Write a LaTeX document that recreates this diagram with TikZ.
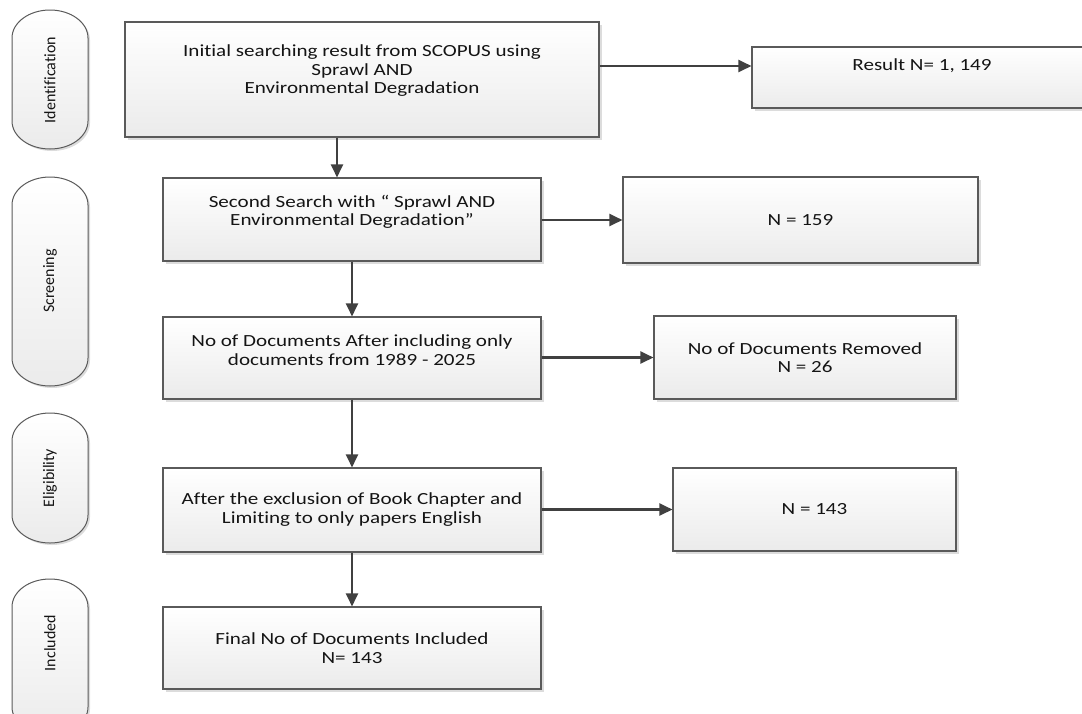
\documentclass[tikz,border=0pt]{standalone}
\usepackage{fontspec}
\setmainfont{Carlito}[RawFeature=-liga]
\newfontfamily\boxfont{Carlito}[FakeStretch=1.24,RawFeature=-liga]
\usetikzlibrary{arrows.meta,shadows}
\definecolor{edgec}{HTML}{5A5A5A}
\definecolor{arrowc}{HTML}{404040}
\definecolor{shadec}{HTML}{EBEBEB}
\definecolor{shadowc}{HTML}{DCDCDC}
\definecolor{textc}{HTML}{141414}
\tikzset{
  box/.style={draw=edgec, line width=1.1pt, top color=white, bottom color=shadec,
    rectangle, inner sep=0pt,
    drop shadow={shadow xshift=3pt, shadow yshift=-3pt, fill=shadowc, opacity=1}},
  txt/.style={font=\boxfont\fontsize{17}{18.5}\selectfont, align=center, text=textc, inner sep=0pt},
  stxt/.style={font=\fontsize{16}{18}\selectfont, rotate=90, text=textc, inner sep=0pt},
  stagebox/.style={draw=edgec, line width=1pt, top color=white, bottom color=shadec,
    drop shadow={shadow xshift=2pt, shadow yshift=-2pt, fill=shadowc, opacity=1}},
  arr/.style={draw=arrowc, line width=2.2pt, -{Triangle[length=13pt,width=12pt]}},
}
\newcommand{\stageshape}[2]{%
  \path[stagebox] (12,#1+28) arc[start angle=180,end angle=360,x radius=38,y radius=28]
    -- (88,#2-28) arc[start angle=0,end angle=180,x radius=38,y radius=28] -- cycle;}
\begin{document}
\begin{tikzpicture}[x=1pt,y=-1pt]
\useasboundingbox (0,0) rectangle (1082,713);
\clip (0,0) rectangle (1082,713);
% stage labels
\stageshape{10}{149}
\node[stxt] (sid) at (50,80) {Identification};
\stageshape{177}{386}
\node[stxt] (sscr) at (50,281) {Screening};
\stageshape{413}{543}
\node[stxt] (selig) at (50,478) {Eligibility};
\stageshape{579}{735}
\node[stxt] (sinc) at (50,643) {Included};
% main boxes
\node[box, minimum width=474pt, minimum height=115pt] (b1) at (362,79.5) {};
\node[txt] (t1) at (362,71) {Initial searching result from SCOPUS using\\Sprawl AND\\Environmental Degradation};
\node[box, minimum width=378pt, minimum height=83pt] (b2) at (352,219.5) {};
\node[txt] (t2) at (352,212) {Second Search with “ Sprawl AND\\Environmental Degradation”};
\node[box, minimum width=378pt, minimum height=82pt] (b3) at (352,358) {};
\node[txt] (t3) at (352,350) {No of Documents After including only\\documents from 1989 - 2025};
\node[box, minimum width=378pt, minimum height=84pt] (b4) at (352,510) {};
\node[txt] (t4) at (352,509.5) {After the exclusion of Book Chapter and\\Limiting to only papers English};
\node[box, minimum width=378pt, minimum height=82pt] (b5) at (352,648) {};
\node[txt] (t5) at (352,648) {Final No of Documents Included\\N= 143};
% side boxes
\node[box, minimum width=340pt, minimum height=61pt] (r1) at (922,77.5) {};
\node[txt] (rt1) at (922,66) {Result N= 1, 149};
\node[box, minimum width=355pt, minimum height=86pt] (r2) at (800.5,220) {};
\node[txt] (rt2) at (800.5,220) {N = 159};
\node[box, minimum width=302pt, minimum height=83pt] (r3) at (805,357.5) {};
\node[txt] (rt3) at (805,357.5) {No of Documents Removed\\N = 26};
\node[box, minimum width=283pt, minimum height=83pt] (r4) at (814.5,509.5) {};
\node[txt] (rt4) at (814.5,509.5) {N = 143};
% connectors
\coordinate (c12) at (337,0);
\draw[arr] (b1.south -| c12) -- (b2.north -| c12);
\draw[arr] (b2.south) -- (b3.north);
\draw[arr] (b3.south) -- (b4.north);
\draw[arr] (b4.south) -- (b5.north);
\draw[arr] (b1.east |- rt1) -- (r1.west |- rt1);
\draw[arr] (b2.east |- r2) -- (r2.west);
\draw[arr] (b3.east |- r3) -- (r3.west);
\draw[arr] (b4.east |- r4) -- (r4.west);
\end{tikzpicture}
\end{document}
